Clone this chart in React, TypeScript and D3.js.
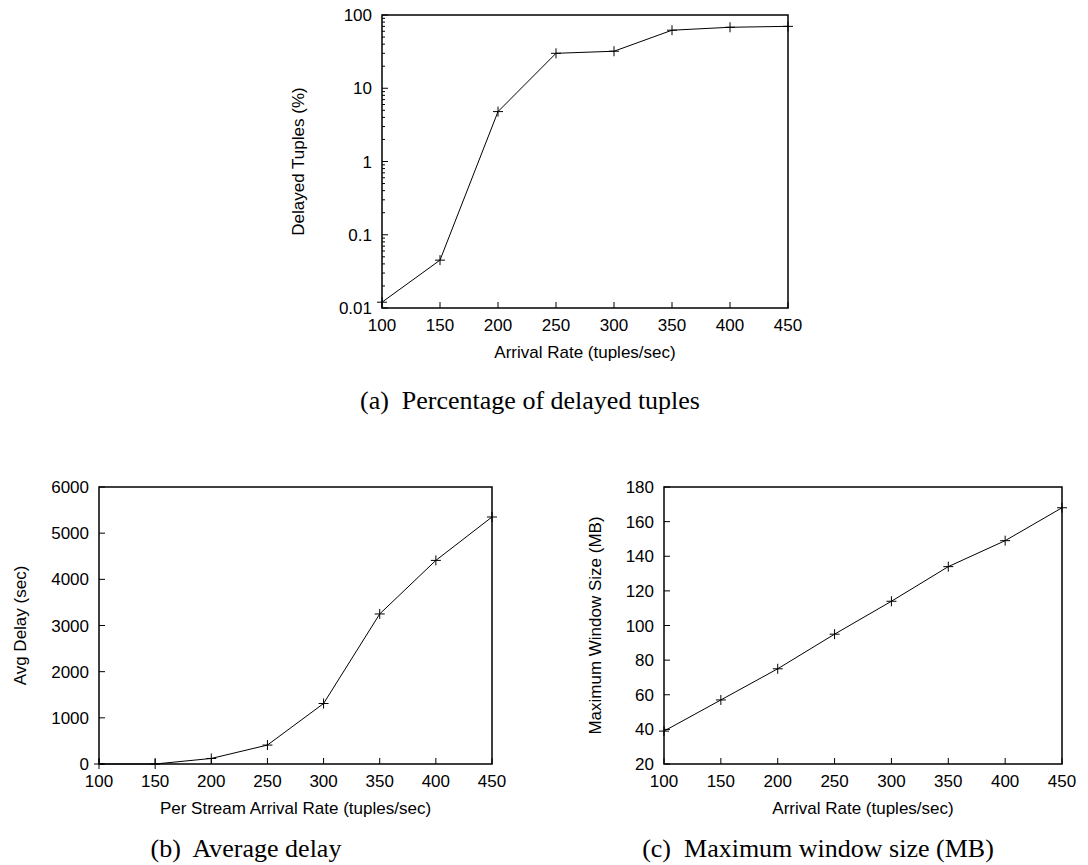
import React from "react";
import * as d3 from "d3";

const rates = [100, 150, 200, 250, 300, 350, 400, 450];
const delayedPct = [0.012, 0.045, 4.8, 30, 32, 62, 68, 70];
const avgDelay = [0, 0, 120, 410, 1310, 3250, 4410, 5350];
const maxWindow = [39, 57, 75, 95, 114, 134, 149, 168];

const xTicks = [100, 150, 200, 250, 300, 350, 400, 450];
const logTicks = [0.01, 0.1, 1, 10, 100];
const delayTicks = [0, 1000, 2000, 3000, 4000, 5000, 6000];
const windowTicks = [20, 40, 60, 80, 100, 120, 140, 160, 180];

const SANS = "'Liberation Sans', Arial, Helvetica, sans-serif";
const SERIF = "'Liberation Serif', 'Times New Roman', serif";
const FS = 17;

type PanelProps = {
  left: number; right: number; top: number; bottom: number;
  values: number[];
  yScaleType: "log" | "linear";
  yDomain: [number, number];
  yTicks: number[];
  yFmt: (v: number) => string;
  xTitle: string; yTitle: string; yTitleX: number;
  caption: string; captionX: number; captionY: number;
};

function Panel(p: PanelProps) {
  const x = d3.scaleLinear().domain([100, 450]).range([p.left, p.right]);
  const y = p.yScaleType === "log"
    ? d3.scaleLog().domain(p.yDomain).range([p.bottom, p.top])
    : d3.scaleLinear().domain(p.yDomain).range([p.bottom, p.top]);
  const line = d3.line<number>().x((_, i) => x(rates[i])).y((d) => y(d));
  const minor: number[] = [];
  if (p.yScaleType === "log") {
    for (let e = -2; e < 2; e++) {
      for (let k = 2; k <= 9; k++) minor.push(k * Math.pow(10, e));
    }
  }
  return (
    <g>
      {p.yTicks.map((t) => (
        <g key={"y" + t}>
          <line x1={p.left} x2={p.left + 6} y1={y(t)} y2={y(t)} stroke="#000" />
          <text x={p.left - 10} y={y(t)} dy="0.36em" textAnchor="end" fontFamily={SANS} fontSize={FS}>{p.yFmt(t)}</text>
        </g>
      ))}
      {minor.map((t) => (
        <line key={"m" + t} x1={p.left} x2={p.left + 3} y1={y(t)} y2={y(t)} stroke="#000" />
      ))}
      {xTicks.map((t) => (
        <g key={"x" + t}>
          <line x1={x(t)} x2={x(t)} y1={p.bottom} y2={p.bottom - 6} stroke="#000" />
          <text x={x(t)} y={p.bottom + 23} textAnchor="middle" fontFamily={SANS} fontSize={FS}>{t}</text>
        </g>
      ))}
      <rect x={p.left} y={p.top} width={p.right - p.left} height={p.bottom - p.top} fill="none" stroke="#000" strokeWidth={1.5} />
      <path d={line(p.values) || ""} fill="none" stroke="#000" strokeWidth={1} />
      {p.values.map((v, i) => (
        <g key={"p" + i} stroke="#000" strokeWidth={1}>
          <line x1={x(rates[i]) - 5} x2={x(rates[i]) + 5} y1={y(v)} y2={y(v)} />
          <line x1={x(rates[i])} x2={x(rates[i])} y1={y(v) - 5} y2={y(v) + 5} />
        </g>
      ))}
      <text x={(p.left + p.right) / 2} y={p.bottom + 50} textAnchor="middle" fontFamily={SANS} fontSize={FS}>{p.xTitle}</text>
      <text transform={`translate(${p.yTitleX},${(p.top + p.bottom) / 2}) rotate(-90)`} textAnchor="middle" dy="0.36em" fontFamily={SANS} fontSize={FS}>{p.yTitle}</text>
      <text x={p.captionX} y={p.captionY} textAnchor="middle" fontFamily={SERIF} fontSize={26} style={{ whiteSpace: "pre" }}>{p.caption}</text>
    </g>
  );
}

export default function App() {
  return (
    <svg width={1088} height={865} style={{ position: "absolute", left: 0, top: 0, background: "#fff" }}>
      <Panel left={382} right={788} top={15} bottom={308} values={delayedPct} yScaleType="log"
        yDomain={[0.01, 100]} yTicks={logTicks} yFmt={(v) => String(v)}
        xTitle="Arrival Rate (tuples/sec)" yTitle="Delayed Tuples (%)" yTitleX={298}
        caption="(a)  Percentage of delayed tuples" captionX={530} captionY={409} />
      <Panel left={99} right={492} top={487} bottom={764} values={avgDelay} yScaleType="linear"
        yDomain={[0, 6000]} yTicks={delayTicks} yFmt={(v) => String(v)}
        xTitle="Per Stream Arrival Rate (tuples/sec)" yTitle="Avg Delay (sec)" yTitleX={20}
        caption="(b)  Average delay" captionX={246} captionY={857} />
      <Panel left={664} right={1062} top={487} bottom={764} values={maxWindow} yScaleType="linear"
        yDomain={[20, 180]} yTicks={windowTicks} yFmt={(v) => String(v)}
        xTitle="Arrival Rate (tuples/sec)" yTitle="Maximum Window Size (MB)" yTitleX={595}
        caption="(c)  Maximum window size (MB)" captionX={818} captionY={857} />
    </svg>
  );
}
